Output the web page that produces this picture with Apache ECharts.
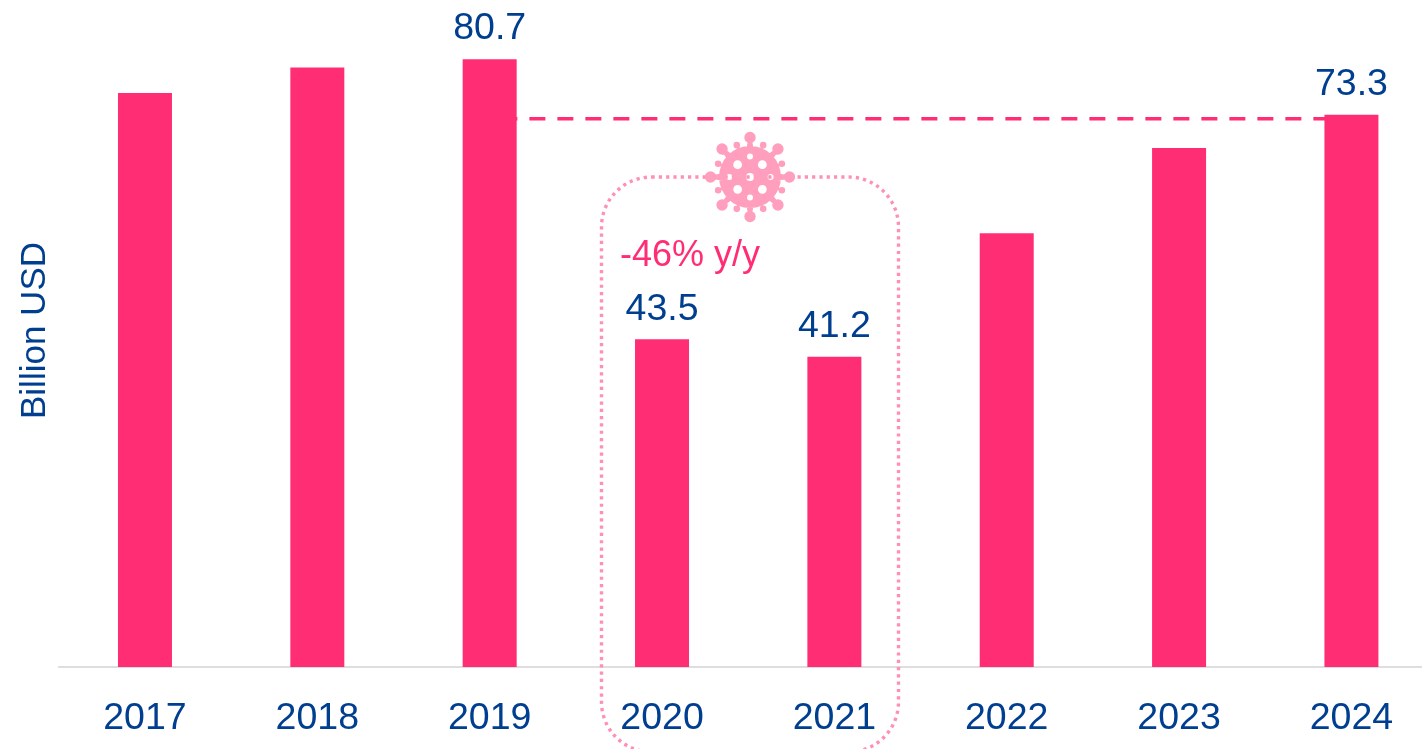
<!DOCTYPE html>
<html><head><meta charset="utf-8">
<style>html,body{margin:0;padding:0;background:#fff}#c{width:1422px;height:749px}</style>
<script src="https://cdn.jsdelivr.net/npm/echarts@6/dist/echarts.min.js"></script>
</head><body><div id="c"></div>
<script>
const years = ['2017','2018','2019','2020','2021','2022','2023','2024'];
const revenue = [76.2,79.6,80.7,43.5,41.2,57.6,68.9,73.3];
const labelledYears = ['2019','2020','2021','2024'];
const recoveryLine = [null,null,72.8,72.8,72.8,72.8,72.8,72.8];
const navy = '#003E8F', pink = '#FF2E74', soft = '#FF9FBD', dot = '#FF8FB5';
const font = '"Liberation Sans", Arial, sans-serif';

function circ(x,y,r,s){return `M${x-r} ${y}A${r} ${r} 0 1 ${s} ${x+r} ${y}A${r} ${r} 0 1 ${s} ${x-r} ${y}Z`;}
function spike(cx,cy,a,r0,r1,w0,w1){
  const dx=Math.cos(a), dy=Math.sin(a), nx=-dy, ny=dx;
  const q=(r,n)=>`${(cx+dx*r+nx*n).toFixed(2)} ${(cy+dy*r+ny*n).toFixed(2)}`;
  return `M${q(r0,-w0)}L${q(r1,-w1)}L${q(r1,w1)}L${q(r0,w0)}Z`;
}
function virus(cx,cy){
  let p = circ(cx,cy,31,1);
  for(let i=0;i<8;i++){
    const a=i*Math.PI/4, b=a+Math.PI/8, dx=Math.cos(a), dy=Math.sin(a);
    p+=spike(cx,cy,a,28,38,3.5,2);
    p+=circ(cx+dx*39.5,cy+dy*39.5,5.7,1);
    p+=spike(cx,cy,b,28,34,1.5,1.3);
    p+=circ(cx+Math.cos(b)*34.5,cy+Math.sin(b)*34.5,3.3,1);
    const hole=i%2?17.5:20.6;
    p+=circ(cx+dx*hole,cy+dy*hole,i%2?4.4:3,0);
  }
  p+=circ(cx,cy,4,0);
  return p;
}
const chart = echarts.init(document.getElementById('c'));
chart.setOption({
  animation:false,
  backgroundColor:'#fff',
  grid:{left:58.8,top:0,width:1378.8,height:667,outerBoundsMode:'none'},
  xAxis:{type:'category',data:years,
    axisTick:{show:false},
    axisLine:{lineStyle:{color:'#DEDEDE',width:2}},
    axisLabel:{color:navy,fontSize:37.5,fontFamily:font,margin:33}},
  yAxis:{type:'value',min:0,max:88.55,
    splitLine:{show:false},axisLabel:{show:false},axisLine:{show:false},axisTick:{show:false},
    name:'Billion USD',nameLocation:'middle',nameRotate:90,nameGap:6,
    nameTextStyle:{color:navy,fontSize:35,fontFamily:font,padding:[0,0,0,6]}},
  graphic:[
    {type:'rect',z:5,shape:{x:601.5,y:177,width:297,height:575,r:50},
      style:{fill:null,stroke:dot,lineWidth:3.4,lineDash:[3.2,4.1]}},
    {type:'text',z:7,x:620,y:256,
      style:{text:'-46% y/y',fill:pink,font:'36px '+font,textVerticalAlign:'middle'}}
  ],
  series:[
    {type:'line',data:recoveryLine,symbol:'none',z:1,silent:true,
      lineStyle:{color:pink,width:3.5,type:[16,12],dashOffset:16.3}},
    {type:'bar',z:2,barWidth:54,
      data:revenue.map((v,i)=>({value:v,label:{show:labelledYears.includes(years[i])}})),
      itemStyle:{color:pink},
      label:{position:'top',distance:11,color:navy,fontSize:37.5,fontFamily:font,formatter:p=>p.value.toFixed(1)}},
    {type:'custom',coordinateSystem:'none',z:6,silent:true,data:[[0]],
      renderItem:()=>({type:'path',
        shape:{pathData:virus(750,177),x:704.8,y:131.8,width:90.4,height:90.4,layout:'cover'},
        style:{fill:soft}})}
  ]
});
</script></body></html>
